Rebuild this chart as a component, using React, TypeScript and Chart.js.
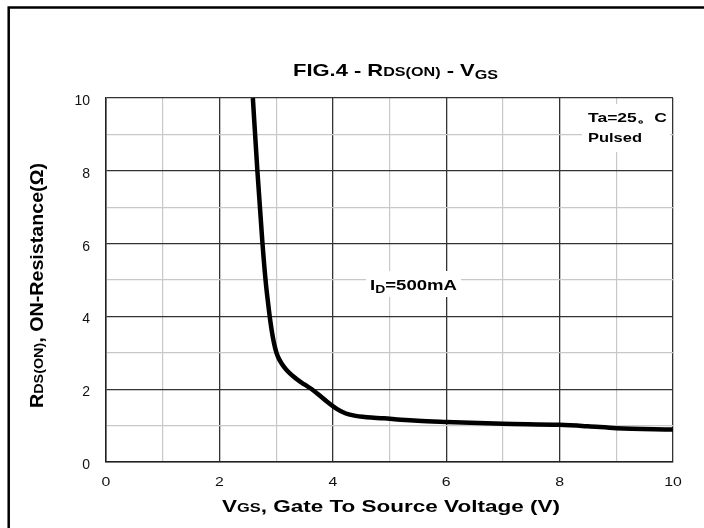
import React, { useEffect, useRef } from 'react';
import { Chart, registerables } from 'chart.js';

Chart.register(...registerables);

// ---- data ----
const vgs = [2.59, 2.67, 2.76, 2.82, 2.86, 2.9, 2.94, 2.98, 3.03, 3.1, 3.2, 3.36, 3.5, 3.63, 3.85, 4.07, 4.22, 4.36, 4.6, 4.9, 5.2, 5.5, 6.0, 7.0, 8.0, 8.5, 9.0, 10.0];
const rds = [10, 8.0, 6.0, 4.9, 4.35, 3.85, 3.45, 3.15, 2.9, 2.7, 2.5, 2.28, 2.13, 2.0, 1.72, 1.46, 1.34, 1.28, 1.23, 1.2, 1.16, 1.13, 1.1, 1.05, 1.02, 0.98, 0.93, 0.89];
const xTickLabels = [0, 2, 4, 6, 8, 10];
const yTickLabels = [0, 2, 4, 6, 8, 10];
const titleText = ['FIG.4 - R', 'DS(ON)', ' - V', 'GS'];
const xTitleText = ['V', 'GS', ', Gate To Source Voltage (V)'];
const yTitleText = ['R', 'DS(ON)', ', ON-Resistance(\u03A9)'];
const noteTa = 'Ta=25\u3002C';
const notePulsed = 'Pulsed';
const noteId = ['I', 'D', '=500mA'];

const FONT = '"Liberation Sans", Arial, Helvetica, sans-serif';

type Seg = { t: string; size: number; dy?: number; weight?: string };

function drawRich(
  ctx: CanvasRenderingContext2D,
  segs: Seg[],
  o: { x: number; y: number; align: 'left' | 'center' | 'right'; target?: number; sx?: number; rotate?: boolean; color?: string }
) {
  ctx.save();
  const fontOf = (s: Seg) => `${s.weight ?? 'bold'} ${s.size}px ${FONT}`;
  let w = 0;
  const widths = segs.map((s) => {
    ctx.font = fontOf(s);
    const m = ctx.measureText(s.t).width;
    w += m;
    return m;
  });
  const k = o.target ? o.target / w : o.sx ?? 1;
  ctx.translate(o.x, o.y);
  if (o.rotate) ctx.rotate(-Math.PI / 2);
  ctx.scale(k, 1);
  let cx = o.align === 'center' ? -w / 2 : o.align === 'right' ? -w : 0;
  ctx.textBaseline = 'alphabetic';
  ctx.textAlign = 'left';
  ctx.fillStyle = o.color ?? '#000';
  segs.forEach((s, i) => {
    ctx.font = fontOf(s);
    ctx.fillText(s.t, cx, s.dy ?? 0);
    cx += widths[i];
  });
  ctx.restore();
}

const decor = {
  id: 'decor',
  beforeDraw(chart: any) {
    const ctx = chart.ctx as CanvasRenderingContext2D;
    ctx.save();
    ctx.fillStyle = '#fff';
    ctx.fillRect(0, 0, chart.width, chart.height);
    ctx.strokeStyle = '#000';
    ctx.lineWidth = 2.5;
    ctx.strokeRect(8.7, 7.5, 900, 900);
    ctx.restore();
  },
  afterDraw(chart: any) {
    const ctx = chart.ctx as CanvasRenderingContext2D;
    const xs = chart.scales.x;
    const ys = chart.scales.y;

    // white label boxes
    ctx.save();
    ctx.fillStyle = '#fff';
    ctx.fillRect(582, 104, 88, 48);
    ctx.fillRect(366, 271, 95, 26);
    ctx.restore();

    // tick labels
    xTickLabels.forEach((v) => {
      drawRich(ctx, [{ t: String(v), size: 13, weight: 'normal' }], {
        x: xs.getPixelForValue(v), y: 486, align: 'center', sx: 1.22, color: '#111',
      });
    });
    yTickLabels.forEach((v) => {
      drawRich(ctx, [{ t: String(v), size: 14, weight: 'normal' }], {
        x: 90, y: ys.getPixelForValue(v) + 7, align: 'right', sx: 1, color: '#111',
      });
    });

    // title
    drawRich(ctx, [
      { t: titleText[0], size: 17 },
      { t: titleText[1], size: 12.5 },
      { t: titleText[2], size: 17 },
      { t: titleText[3], size: 12.5, dy: 3 },
    ], { x: 395.5, y: 76, align: 'center', target: 205 });

    // x title
    drawRich(ctx, [
      { t: xTitleText[0], size: 16.5 },
      { t: xTitleText[1], size: 12 },
      { t: xTitleText[2], size: 16.5 },
    ], { x: 391, y: 512, align: 'center', target: 338 });

    // y title
    drawRich(ctx, [
      { t: yTitleText[0], size: 18.5 },
      { t: yTitleText[1], size: 13.5 },
      { t: yTitleText[2], size: 18.5 },
    ], { x: 43, y: 285.5, align: 'center', target: 245, rotate: true });

    // notes
    drawRich(ctx, [{ t: noteTa, size: 13 }], { x: 588, y: 122, align: 'left', target: 79 });
    drawRich(ctx, [{ t: notePulsed, size: 13 }], { x: 588, y: 142, align: 'left', target: 54 });
    drawRich(ctx, [
      { t: noteId[0], size: 14 },
      { t: noteId[1], size: 10.5, dy: 3 },
      { t: noteId[2], size: 14 },
    ], { x: 370, y: 290, align: 'left', target: 87 });
  },
};

const gridColor = (c: any) => (Math.round(c.tick.value) % 2 === 0 ? '#333' : '#c8c8c8');
const gridWidth = (c: any) => (Math.round(c.tick.value) % 2 === 0 ? 1.3 : 1.2);

export default function App() {
  const ref = useRef<HTMLCanvasElement>(null);
  useEffect(() => {
    const chart = new Chart(ref.current!, {
      type: 'line',
      data: {
        datasets: [
          {
            data: vgs.map((x, i) => ({ x, y: rds[i] })),
            borderColor: '#000',
            borderWidth: 4.5,
            pointRadius: 0,
            cubicInterpolationMode: 'monotone',
            borderJoinStyle: 'round',
            fill: false,
          },
        ],
      },
      options: {
        responsive: false,
        animation: false,
        devicePixelRatio: 1,
        layout: { padding: { top: 98, right: 31, left: 0, bottom: 0 } },
        plugins: { legend: { display: false }, tooltip: { enabled: false }, title: { display: false } },
        scales: {
          x: {
            type: 'linear',
            min: 0,
            max: 10,
            ticks: { stepSize: 1, display: false },
            grid: { color: gridColor, lineWidth: gridWidth, drawTicks: false },
            border: { display: true, color: '#222', width: 1.5 },
            afterFit: (s: any) => { s.height = 66; },
          },
          y: {
            type: 'linear',
            min: 0,
            max: 10,
            ticks: { stepSize: 1, display: false },
            grid: { color: gridColor, lineWidth: gridWidth, drawTicks: false },
            border: { display: true, color: '#222', width: 1.5 },
            afterFit: (s: any) => { s.width = 106; },
          },
        },
      } as any,
      plugins: [decor],
    });
    return () => chart.destroy();
  }, []);
  return (
    <div style={{ position: 'absolute', left: 0, top: 0, width: 704, height: 528 }}>
      <canvas ref={ref} width={704} height={528} style={{ display: 'block', width: 704, height: 528 }} />
    </div>
  );
}
